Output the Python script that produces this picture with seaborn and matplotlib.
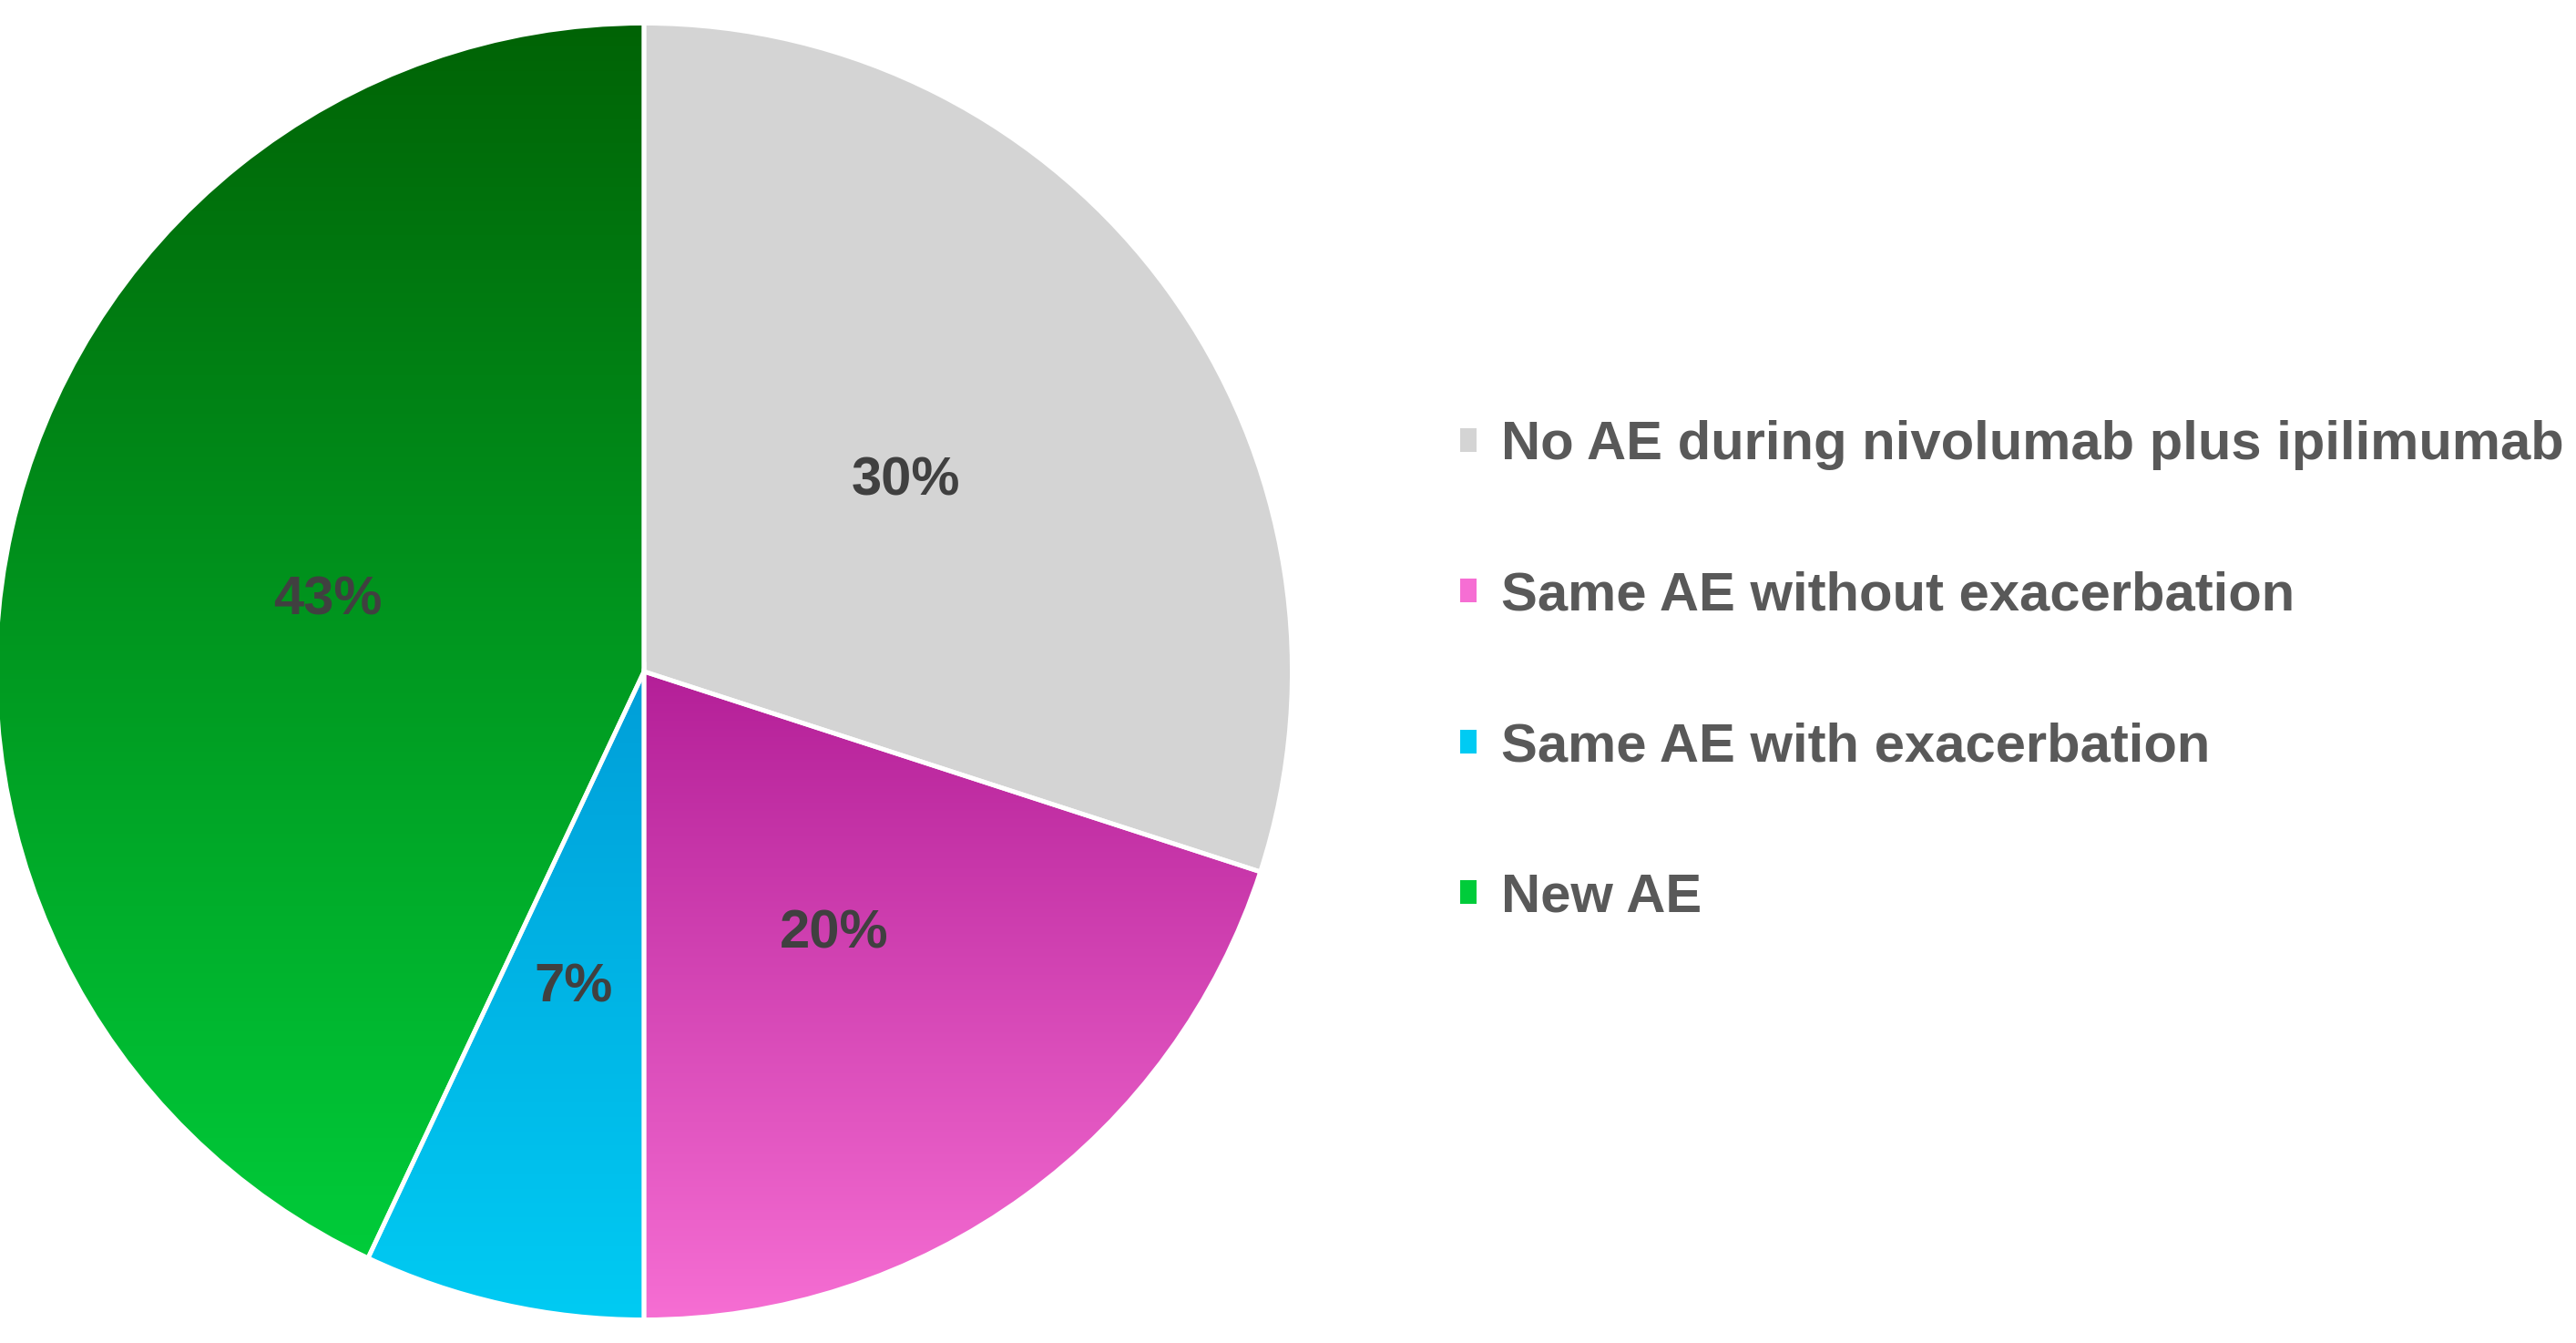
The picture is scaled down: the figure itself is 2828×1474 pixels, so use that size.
import numpy as np
import matplotlib
matplotlib.use("Agg")
import matplotlib.pyplot as plt
import seaborn as sns
from matplotlib.colors import LinearSegmentedColormap
from matplotlib.patches import Patch

sns.set_theme(style="white")
plt.rcParams['font.family'] = ['Liberation Sans', 'DejaVu Sans']

labels = ['No AE during nivolumab plus ipilimumab', 'Same AE without exacerbation',
          'Same AE with exacerbation', 'New AE']
shares = [30, 20, 7, 43]
top_colors = ['#d4d4d4', '#b41f98', '#009ed8', '#006305']
bottom_colors = ['#d4d4d4', '#f66ed3', '#00cbf3', '#00cc3a']

fig = plt.figure(figsize=(28.28, 14.74), dpi=100)
ax = fig.add_axes([-0.005, 0.0125, 0.51, 0.975])

wedges, texts, autotexts = ax.pie(
    shares, startangle=90, counterclock=False, autopct='%d%%', pctdistance=0.5,
    wedgeprops=dict(edgecolor='white', linewidth=3.5),
    textprops=dict(fontsize=43, fontweight='bold', color='#404040'))

# vertical gradient fill per wedge, dark at top
fig.canvas.draw()
grad = np.linspace(0, 1, 256).reshape(-1, 1)
for w, c0, c1 in zip(wedges, top_colors, bottom_colors):
    w.set_facecolor('none')
    bb = w.get_path().get_extents(w.get_patch_transform())
    cmap = LinearSegmentedColormap.from_list('g', [c1, c0])
    im = ax.imshow(grad, cmap=cmap, aspect='auto', origin='lower',
                   extent=[bb.x0, bb.x1, bb.y0, bb.y1], zorder=0.5)
    im.set_clip_path(w)
ax.set_xlim(-1.01, 1.01)
ax.set_ylim(-1.01, 1.01)
ax.set_aspect('equal')
ax.axis('off')

handles = [Patch(facecolor=c, edgecolor='none') for c in bottom_colors]
handles[0] = Patch(facecolor='#d4d4d4', edgecolor='none')
fig.legend(handles, labels, loc='center left', bbox_to_anchor=(0.548, 0.5),
           frameon=False, labelspacing=1.85, handlelength=0.3,
           handleheight=0.3, handletextpad=0.45, labelcolor='#595959',
           prop=dict(weight='bold', size=43))

fig.savefig('out.png', dpi=100, facecolor='white')
